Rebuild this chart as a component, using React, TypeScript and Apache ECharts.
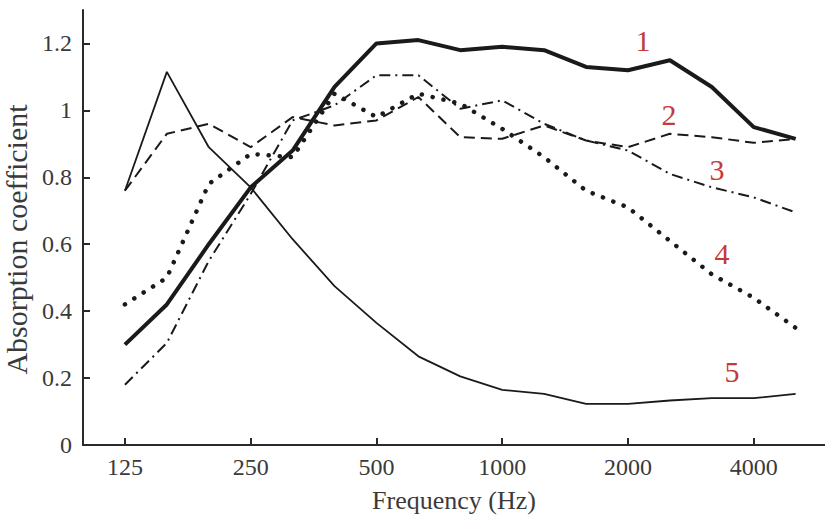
import React, { useEffect, useRef } from "react";
import * as echarts from "echarts";

const frequencies = ["125", "160", "200", "250", "315", "400", "500", "630", "800", "1000", "1250", "1600", "2000", "2500", "3150", "4000", "5000"];
const tickLabelIndices = [0, 3, 6, 9, 12, 15];
const yTickValues = [0, 0.2, 0.4, 0.6, 0.8, 1.0, 1.2];

const curve1 = [0.30, 0.42, 0.60, 0.77, 0.88, 1.07, 1.20, 1.21, 1.18, 1.19, 1.18, 1.13, 1.12, 1.15, 1.07, 0.95, 0.915];
const curve2 = [0.76, 0.93, 0.96, 0.89, 0.98, 0.955, 0.97, 1.04, 0.92, 0.915, 0.955, 0.91, 0.89, 0.93, 0.92, 0.903, 0.915];
const curve3 = [0.18, 0.305, 0.55, 0.75, 0.97, 1.015, 1.105, 1.105, 1.005, 1.03, 0.96, 0.91, 0.88, 0.81, 0.77, 0.74, 0.695];
const curve4 = [0.42, 0.50, 0.78, 0.87, 0.86, 1.05, 0.98, 1.05, 1.02, 0.945, 0.86, 0.76, 0.71, 0.61, 0.51, 0.44, 0.35];
const curve5 = [0.76, 1.115, 0.89, 0.77, 0.615, 0.475, 0.365, 0.265, 0.205, 0.165, 0.153, 0.123, 0.123, 0.133, 0.14, 0.14, 0.153];

const curveLabels = ["1", "2", "3", "4", "5"];

const toPairs = (arr: number[]) => arr.map((v, i) => [i, v]);

export default function App() {
  const ref = useRef<HTMLDivElement>(null);
  useEffect(() => {
    if (!ref.current) return;
    const chart = echarts.init(ref.current, null, { renderer: "svg" });
    const font = "'Liberation Serif', 'DejaVu Serif', serif";
    const lineColor = "#1a1a1a";
    const labelPos = [
      [643, 40],
      [669, 114],
      [717, 169],
      [722, 253],
      [732, 371],
    ];
    chart.setOption({
      animation: false,
      backgroundColor: "#ffffff",
      grid: { left: 83, right: 0, top: 10, bottom: 74, outerBoundsMode: "none", containLabel: false },
      xAxis: {
        type: "value",
        min: -1,
        max: 16.7,
        name: "Frequency (Hz)",
        nameLocation: "middle",
        nameGap: 42,
        nameTextStyle: { fontFamily: font, fontSize: 26, color: "#3a3a3a" },
        axisLine: { onZero: false, lineStyle: { color: "#2a2a2a", width: 2 } },
        axisTick: { inside: true, length: 7, customValues: tickLabelIndices, lineStyle: { color: "#2a2a2a", width: 2 } },
        axisLabel: {
          customValues: tickLabelIndices,
          formatter: (v: number) => frequencies[Math.round(v)] ?? "",
          fontFamily: font,
          fontSize: 24,
          color: "#3a3a3a",
          margin: 10,
        },
        splitLine: { show: false },
      },
      yAxis: {
        type: "value",
        min: 0,
        max: 1.3,
        name: "Absorption coefficient",
        nameLocation: "middle",
        nameGap: 47,
        nameTextStyle: { fontFamily: font, fontSize: 30, color: "#3a3a3a", padding: [0, 24, 0, 0] },
        axisLine: { show: true, onZero: false, lineStyle: { color: "#2a2a2a", width: 2 } },
        axisTick: { show: true, inside: true, length: 7, customValues: yTickValues, lineStyle: { color: "#2a2a2a", width: 2 } },
        axisLabel: {
          customValues: yTickValues,
          formatter: (v: number) => String(+v.toFixed(1)),
          fontFamily: font,
          fontSize: 24,
          color: "#3a3a3a",
          margin: 11,
        },
        splitLine: { show: false },
      },
      series: [
        { type: "line", data: toPairs(curve5), showSymbol: false, lineStyle: { color: lineColor, width: 1.8 } },
        { type: "line", data: toPairs(curve2), showSymbol: false, lineStyle: { color: lineColor, width: 2, type: [11, 6] } },
        { type: "line", data: toPairs(curve3), showSymbol: false, lineStyle: { color: lineColor, width: 2, type: [11, 5, 2, 5] } },
        { type: "line", data: toPairs(curve4), showSymbol: false, lineStyle: { color: lineColor, width: 4.5, type: [0.1, 11], cap: "round" } },
        { type: "line", data: toPairs(curve1), showSymbol: false, lineStyle: { color: lineColor, width: 4 } },
      ],
      graphic: curveLabels.map((t, i) => ({
        type: "text",
        x: labelPos[i][0],
        y: labelPos[i][1],
        style: {
          text: t,
          fontFamily: font,
          fontSize: 30,
          fill: "#c43a3a",
          align: "center",
          verticalAlign: "middle",
        },
      })),
    });
    return () => chart.dispose();
  }, []);
  return <div ref={ref} style={{ position: "fixed", left: 0, top: 0, width: 825, height: 519 }} />;
}
